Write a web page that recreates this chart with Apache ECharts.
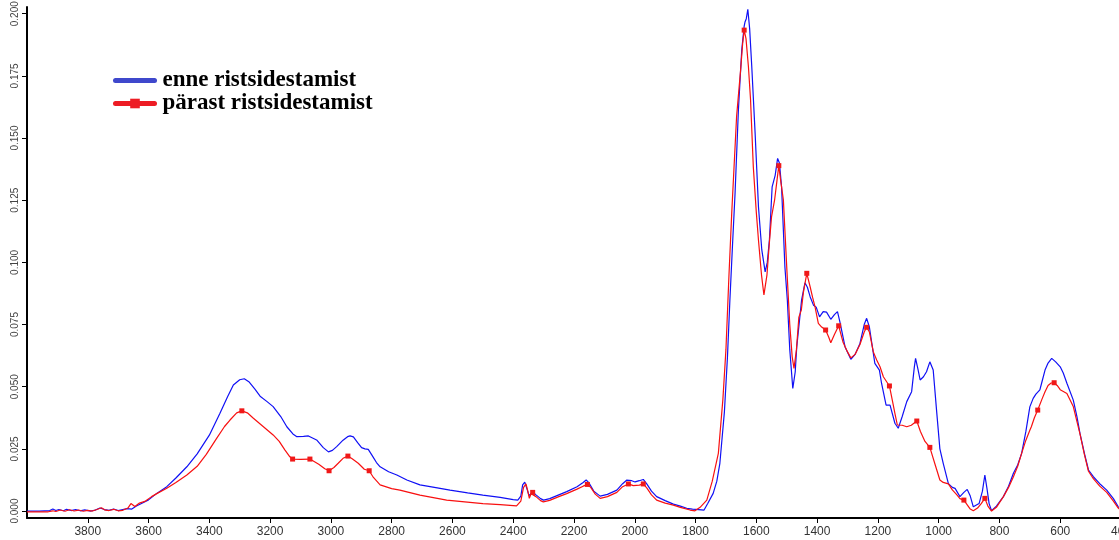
<!DOCTYPE html>
<html>
<head>
<meta charset="utf-8">
<script src="https://cdn.jsdelivr.net/npm/echarts@6/dist/echarts.min.js"></script>
<style>
html,body{margin:0;padding:0;background:#fff;}
#chart{width:1119px;height:540px;}
</style>
</head>
<body>
<div id="chart"></div>
<script>
// Series names
const seriesNames = ['enne ristsidestamist', 'pärast ristsidestamist'];

// Tick values
const xTicks = [3800, 3600, 3400, 3200, 3000, 2800, 2600, 2400, 2200, 2000, 1800, 1600, 1400, 1200, 1000, 800, 600, 400];
const yTicks = [0, 0.025, 0.05, 0.075, 0.1, 0.125, 0.15, 0.175, 0.2];

// [wavenumber, absorbance] – before cross-linking (blue)
const blueSpectrum = [
  [4000,0.0000],[3960,0.0000],[3925,0.0002],[3915,0.0008],[3905,0.0002],[3895,0.0006],[3880,0.0001],
  [3870,0.0007],[3855,0.0002],[3840,0.0006],[3825,0.0001],[3810,0.0005],[3790,0.0000],[3775,0.0004],
  [3760,0.0012],[3745,0.0006],[3730,0.0003],[3715,0.0008],[3700,0.0002],[3685,0.0006],[3670,0.0010],
  [3655,0.0008],[3640,0.0020],[3620,0.0032],[3600,0.0045],[3573,0.0071],[3540,0.0098],[3510,0.0133],
  [3474,0.0178],[3440,0.0230],[3400,0.0305],[3365,0.0393],[3340,0.0460],[3321,0.0507],[3300,0.0528],
  [3285,0.0532],[3270,0.0520],[3250,0.0490],[3233,0.0462],[3210,0.0440],[3190,0.0420],[3165,0.0380],
  [3145,0.0339],[3125,0.0310],[3112,0.0299],[3090,0.0300],[3074,0.0302],[3047,0.0286],[3025,0.0255],
  [3008,0.0238],[2995,0.0244],[2981,0.0259],[2960,0.0285],[2945,0.0299],[2937,0.0302],[2926,0.0298],
  [2912,0.0275],[2899,0.0255],[2888,0.0250],[2877,0.0248],[2865,0.0225],[2850,0.0195],[2838,0.0178],
  [2810,0.0158],[2783,0.0145],[2750,0.0125],[2707,0.0105],[2650,0.0093],[2608,0.0084],[2550,0.0073],
  [2500,0.0064],[2443,0.0055],[2400,0.0046],[2385,0.0044],[2375,0.0060],[2369,0.0105],[2362,0.0116],
  [2355,0.0090],[2348,0.0062],[2342,0.0068],[2336,0.0077],[2325,0.0065],[2310,0.0050],[2300,0.0044],
  [2280,0.0050],[2250,0.0065],[2224,0.0078],[2190,0.0098],[2170,0.0115],[2160,0.0125],[2150,0.0112],
  [2135,0.0080],[2114,0.0060],[2090,0.0067],[2059,0.0084],[2040,0.0110],[2027,0.0124],[2010,0.0122],
  [1999,0.0117],[1985,0.0122],[1972,0.0127],[1960,0.0108],[1945,0.0080],[1928,0.0058],[1900,0.0042],
  [1873,0.0028],[1850,0.0020],[1829,0.0011],[1810,0.0008],[1790,0.0006],[1772,0.0004],[1760,0.0030],
  [1742,0.0071],[1730,0.0120],[1720,0.0192],[1705,0.0400],[1695,0.0620],[1687,0.0849],[1678,0.1080],
  [1670,0.1278],[1659,0.1613],[1648,0.1854],[1640,0.1950],[1637,0.1968],[1633,0.1980],[1628,0.2018],
  [1622,0.1940],[1615,0.1787],[1604,0.1519],[1593,0.1224],[1582,0.1050],[1571,0.0962],[1564,0.1000],
  [1557,0.1090],[1548,0.1304],[1538,0.1350],[1530,0.1418],[1524,0.1400],[1517,0.1304],[1506,0.0982],
  [1498,0.0849],[1490,0.0650],[1480,0.0493],[1472,0.0560],[1467,0.0660],[1451,0.0849],[1440,0.0918],
  [1432,0.0900],[1423,0.0862],[1412,0.0828],[1403,0.0820],[1392,0.0781],[1380,0.0802],[1369,0.0800],
  [1355,0.0771],[1343,0.0790],[1333,0.0802],[1325,0.0761],[1308,0.0660],[1289,0.0610],[1275,0.0630],
  [1259,0.0674],[1245,0.0750],[1237,0.0775],[1228,0.0740],[1210,0.0594],[1195,0.0567],[1188,0.0514],
  [1173,0.0426],[1160,0.0426],[1144,0.0353],[1133,0.0333],[1120,0.0380],[1105,0.0440],[1089,0.0480],
  [1080,0.0580],[1076,0.0614],[1068,0.0570],[1061,0.0527],[1050,0.0540],[1040,0.0560],[1029,0.0600],
  [1018,0.0567],[1007,0.0406],[996,0.0250],[985,0.0192],[968,0.0110],[955,0.0095],[946,0.0091],
  [930,0.0058],[917,0.0075],[906,0.0087],[896,0.0060],[886,0.0017],[867,0.0030],[856,0.0080],
  [848,0.0145],[841,0.0090],[834,0.0030],[826,0.0001],[810,0.0020],[787,0.0058],[770,0.0100],
  [754,0.0152],[740,0.0185],[727,0.0232],[713,0.0320],[700,0.0419],[689,0.0453],[680,0.0470],
  [667,0.0487],[660,0.0520],[650,0.0567],[640,0.0595],[628,0.0614],[615,0.0600],[600,0.0580],
  [590,0.0555],[578,0.0514],[557,0.0446],[545,0.0380],[535,0.0312],[520,0.0230],[507,0.0165],
  [491,0.0138],[470,0.0110],[447,0.0084],[425,0.0050],[409,0.0017],[400,0.0005]
];

// [wavenumber, absorbance] – after cross-linking (red)
const redSpectrum = [
  [4000,-0.0003],[3930,-0.0003],[3915,0.0001],[3905,-0.0002],[3890,0.0004],[3875,-0.0001],[3860,0.0005],
  [3845,0.0000],[3830,0.0004],[3815,-0.0001],[3800,0.0003],[3785,0.0000],[3770,0.0006],[3755,0.0013],
  [3745,0.0005],[3730,0.0002],[3715,0.0007],[3700,0.0001],[3685,0.0003],[3668,0.0012],[3658,0.0030],
  [3645,0.0018],[3630,0.0032],[3610,0.0040],[3590,0.0058],[3573,0.0070],[3540,0.0092],[3510,0.0115],
  [3474,0.0145],[3440,0.0180],[3410,0.0228],[3376,0.0292],[3350,0.0340],[3332,0.0366],[3310,0.0395],
  [3293,0.0403],[3275,0.0395],[3255,0.0373],[3222,0.0339],[3190,0.0306],[3170,0.0280],[3151,0.0245],
  [3135,0.0218],[3126,0.0209],[3100,0.0208],[3069,0.0209],[3040,0.0188],[3020,0.0170],[3006,0.0162],
  [2990,0.0175],[2976,0.0192],[2960,0.0212],[2944,0.0221],[2930,0.0210],[2910,0.0192],[2890,0.0168],
  [2874,0.0162],[2860,0.0135],[2838,0.0105],[2800,0.0090],[2773,0.0084],[2707,0.0064],[2619,0.0044],
  [2500,0.0030],[2443,0.0026],[2389,0.0021],[2375,0.0040],[2366,0.0095],[2358,0.0109],[2352,0.0080],
  [2347,0.0051],[2341,0.0070],[2336,0.0075],[2325,0.0058],[2310,0.0042],[2301,0.0037],[2280,0.0043],
  [2250,0.0058],[2224,0.0070],[2190,0.0088],[2170,0.0100],[2156,0.0107],[2145,0.0095],[2130,0.0068],
  [2114,0.0051],[2090,0.0058],[2059,0.0075],[2040,0.0098],[2021,0.0109],[2005,0.0102],[1999,0.0098],
  [1985,0.0104],[1972,0.0109],[1960,0.0092],[1945,0.0065],[1928,0.0044],[1900,0.0032],[1873,0.0024],
  [1850,0.0015],[1818,0.0004],[1802,0.0001],[1785,0.0015],[1763,0.0044],[1745,0.0120],[1725,0.0232],
  [1710,0.0450],[1700,0.0650],[1690,0.0950],[1681,0.1197],[1665,0.1586],[1652,0.1770],[1645,0.1880],
  [1640,0.1934],[1634,0.1900],[1626,0.1787],[1619,0.1653],[1610,0.1385],[1600,0.1200],[1593,0.1090],
  [1583,0.0950],[1575,0.0869],[1565,0.0950],[1557,0.1080],[1550,0.1183],[1540,0.1250],[1532,0.1330],
  [1526,0.1389],[1520,0.1330],[1511,0.1251],[1500,0.0982],[1490,0.0750],[1482,0.0620],[1476,0.0574],
  [1468,0.0650],[1460,0.0780],[1452,0.0808],[1445,0.0880],[1434,0.0956],[1423,0.0902],[1415,0.0860],
  [1407,0.0822],[1396,0.0755],[1385,0.0740],[1372,0.0728],[1362,0.0700],[1355,0.0677],[1343,0.0710],
  [1329,0.0745],[1315,0.0680],[1300,0.0640],[1289,0.0616],[1275,0.0630],[1259,0.0670],[1245,0.0720],
  [1237,0.0739],[1228,0.0720],[1215,0.0640],[1204,0.0607],[1193,0.0580],[1182,0.0540],[1162,0.0503],
  [1150,0.0430],[1144,0.0393],[1136,0.0346],[1120,0.0345],[1105,0.0339],[1090,0.0345],[1072,0.0362],
  [1060,0.0320],[1045,0.0280],[1029,0.0256],[1010,0.0180],[996,0.0125],[985,0.0115],[968,0.0109],
  [955,0.0085],[940,0.0065],[930,0.0050],[917,0.0044],[906,0.0025],[896,0.0008],[886,0.0001],
  [872,0.0012],[860,0.0030],[848,0.0051],[838,0.0020],[826,0.0000],[810,0.0015],[787,0.0058],
  [770,0.0095],[754,0.0138],[740,0.0180],[727,0.0232],[713,0.0285],[700,0.0325],[695,0.0339],
  [685,0.0375],[674,0.0406],[660,0.0450],[650,0.0480],[640,0.0505],[630,0.0515],[620,0.0516],
  [610,0.0505],[600,0.0488],[578,0.0473],[557,0.0420],[535,0.0310],[520,0.0225],[507,0.0160],
  [491,0.0130],[470,0.0100],[447,0.0075],[425,0.0040],[409,0.0012],[400,0.0003]
];

// wavenumbers where the red curve shows square markers
const redMarkers = [3293, 3126, 3069, 3006, 2944, 2874, 2336, 2156, 2021, 1972, 1640, 1526, 1434,
  1372, 1329, 1237, 1162, 1072, 1029, 917, 848, 674, 620];

const chart = echarts.init(document.getElementById('chart'), null, {renderer: 'canvas'});

const blueData = blueSpectrum.map(p => [p[0], p[1]]);
const redData = redSpectrum.map(p => redMarkers.indexOf(p[0]) >= 0
  ? {value: [p[0], p[1]]}
  : {value: [p[0], p[1]], symbol: 'none'});

const option = {
  animation: false,
  backgroundColor: '#ffffff',
  grid: {left: 27, top: 7, width: 1094, height: 511, containLabel: false, outerBoundsMode: 'none'},
  legend: {
    orient: 'vertical',
    left: 113,
    top: 69,
    padding: 0,
    itemWidth: 39,
    itemHeight: 12,
    itemGap: 0,
    selectedMode: false,
    lineStyle: {width: 5},
    textStyle: {
      fontFamily: '"Liberation Serif", "Times New Roman", serif',
      fontWeight: 'bold',
      fontSize: 23,
      color: '#000',
      padding: [0, 0, 0, 3]
    },
    data: [
      {name: seriesNames[0], itemStyle: {opacity: 0}, lineStyle: {color: '#3f48cc', width: 5, cap: 'round'}},
      {name: seriesNames[1], itemStyle: {color: '#ed1c24'}, lineStyle: {color: '#ed1c24', width: 5, cap: 'round'}}
    ]
  },
  xAxis: {
    type: 'value',
    inverse: true,
    min: 400,
    max: 4000,
    splitLine: {show: false},
    axisLine: {onZero: false, lineStyle: {color: '#000', width: 2}},
    axisTick: {show: true, length: 5, customValues: xTicks, lineStyle: {color: '#000', width: 1}},
    axisLabel: {
      customValues: xTicks,
      margin: 8,
      fontFamily: 'Arial, "Liberation Sans", sans-serif',
      fontSize: 12,
      color: '#333',
      formatter: v => String(v)
    }
  },
  yAxis: {
    type: 'value',
    min: -0.0028,
    max: 0.2027,
    splitLine: {show: false},
    axisLine: {show: true, onZero: false, lineStyle: {color: '#000', width: 2}},
    axisTick: {show: true, length: 5, customValues: yTicks, lineStyle: {color: '#000', width: 1}},
    axisLabel: {
      customValues: yTicks,
      rotate: 90,
      margin: 7,
      fontFamily: 'Arial, "Liberation Sans", sans-serif',
      fontSize: 10,
      color: '#444',
      formatter: v => v.toFixed(3)
    }
  },
  series: [
    {
      name: seriesNames[0],
      type: 'line',
      data: blueData,
      symbol: 'none',
      color: '#1010f5',
      lineStyle: {color: '#1010f5', width: 1.2},
      z: 2
    },
    {
      name: seriesNames[1],
      type: 'line',
      data: redData,
      symbol: 'rect',
      symbolSize: 5,
      showAllSymbol: true,
      color: '#f01818',
      itemStyle: {color: '#f01818'},
      lineStyle: {color: '#f81010', width: 1.2},
      z: 3
    }
  ]
};
chart.setOption(option);
</script>
</body>
</html>
